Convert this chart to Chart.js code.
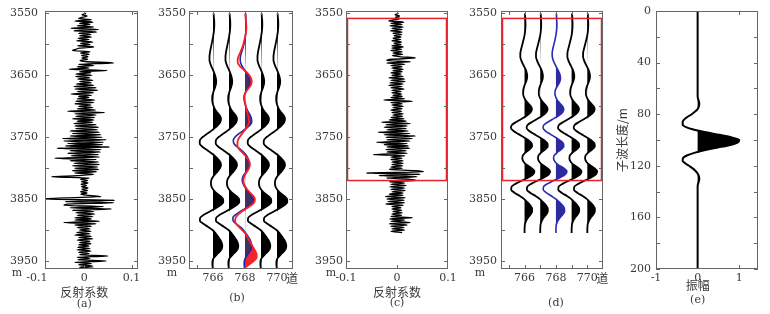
<!DOCTYPE html>
<html>
<head>
<meta charset="utf-8">
<script src="https://cdn.jsdelivr.net/npm/chart.js@4.4.1/dist/chart.umd.min.js"></script>
<style>
html, body { margin: 0; padding: 0; background: #fff; }
#wrap { position: relative; width: 770px; height: 314px; overflow: hidden; }
canvas { position: absolute; top: 0; }
</style>
</head>
<body>
<div id="wrap">
  <canvas id="pa" width="152" height="314" style="left:0px"></canvas>
  <canvas id="pb" width="152" height="314" style="left:150px"></canvas>
  <canvas id="pc" width="152" height="314" style="left:305px"></canvas>
  <canvas id="pd" width="152" height="314" style="left:460px"></canvas>
  <canvas id="pe" width="158" height="314" style="left:612px"></canvas>
</div>
<script>
// reflection coefficients, well (a), every 2 m from 3550 m
const reflA = [
  0.004, -0.005, 0.006, -0.003, -0.012, 0.015, -0.02, 0.018, -0.01, 0.012,
  -0.015, 0.02, -0.028, 0.03, -0.022, 0.026, -0.012, 0.014, -0.01, 0.015,
  -0.013, 0.01, -0.016, 0.018, -0.008, 0.012, -0.014, 0.02, -0.01, -0.018,
  -0.025, 0.012, -0.008, 0.01, -0.006, 0.008, -0.005, 0.007, -0.009, 0.006,
  0.062, -0.012, 0.02, -0.015, 0.01, -0.032, 0.048, -0.01, 0.014, -0.018,
  0.016, -0.018, 0.012, -0.014, 0.018, -0.01, 0.015, -0.017, 0.02, -0.022,
  0.025, -0.02, 0.028, -0.015, 0.02, -0.028, 0.015, -0.012, 0.01, -0.015,
  0.022, -0.018, 0.02, -0.02, 0.014, -0.012, 0.018, -0.015, 0.024, -0.035,
  0.043, -0.02, 0.025, -0.018, 0.022, -0.025, 0.02, -0.015, 0.018, -0.022,
  0.025, -0.02, 0.03, -0.018, 0.028, -0.03, 0.032, -0.025, 0.035, -0.03,
  0.038, -0.046, 0.046, -0.043, 0.04, -0.035, 0.038, -0.04, 0.053, -0.057,
  0.035, -0.03, 0.034, -0.035, 0.03, -0.028, 0.032, -0.062, 0.025, -0.03,
  0.03, -0.022, 0.032, -0.025, 0.028, -0.02, 0.03, -0.025, 0.026, -0.02,
  0.02, -0.015, -0.069, 0.01, -0.008, 0.007, -0.006, 0.008, -0.007, 0.005,
  -0.006, 0.008, -0.005, 0.007, -0.008, 0.006, -0.007, 0.01, 0.035, -0.04,
  -0.09, 0.064, -0.04, 0.062, -0.035, -0.043, 0.04, -0.03, 0.057, -0.025,
  0.02, -0.018, 0.022, -0.015, 0.018, -0.02, 0.015, -0.02, 0.032, -0.043,
  0.025, -0.02, 0.015, -0.015, 0.012, -0.01, 0.014, -0.016, 0.012, -0.02,
  0.015, -0.012, 0.018, -0.015, 0.012, -0.01, 0.014, -0.012, 0.01, -0.014,
  0.012, -0.015, 0.014, -0.012, 0.01, -0.01, 0.05, -0.015, 0.012, -0.014,
  0.046, -0.02, 0.015, -0.012, 0.018, -0.01, 0.02
];
// reflection coefficients, panel (c), every 2 m from 3550 m
const reflC = [
  0.003, -0.004, 0.005, -0.003, 0.006, -0.005, -0.016, 0.013, -0.012, 0.01,
  -0.014, 0.012, -0.01, 0.01, -0.013, 0.01, -0.008, 0.009, -0.006, 0.008,
  -0.008, 0.007, -0.01, 0.009, -0.006, 0.008, -0.01, 0.012, -0.01, 0.009,
  -0.012, 0.01, -0.008, 0.011, -0.009, 0.008, 0.036, -0.01, -0.02, 0.026,
  -0.02, 0.015, -0.012, 0.01, -0.01, 0.012, -0.008, 0.01, -0.012, 0.008,
  -0.01, 0.012, -0.016, 0.015, -0.012, 0.016, -0.014, 0.012, -0.016, 0.01,
  -0.012, 0.014, -0.01, 0.008, -0.01, 0.009, -0.008, 0.01, -0.012, 0.015,
  -0.026, 0.03, -0.012, 0.01, -0.01, 0.012, -0.008, 0.01, -0.012, 0.009,
  -0.01, 0.012, -0.008, 0.011, -0.012, 0.014, -0.015, 0.018, -0.03, 0.026,
  -0.022, 0.02, -0.025, 0.018, -0.02, 0.022, -0.037, 0.025, -0.025, 0.036,
  -0.022, 0.03, -0.02, 0.025, -0.04, 0.02, -0.025, 0.022, -0.02, 0.025,
  -0.022, 0.018, -0.02, 0.02, -0.046, 0.015, -0.012, 0.01, -0.012, 0.012,
  -0.01, 0.012, -0.01, 0.011, -0.012, 0.01, -0.015, 0.035, 0.052, -0.06,
  0.045, -0.035, 0.039, -0.02, 0.025, 0.038, -0.015, 0.015, -0.012, 0.018,
  -0.014, 0.015, -0.012, 0.016, -0.01, 0.012, -0.015, 0.012, -0.023, 0.016,
  -0.02, 0.014, -0.018, 0.015, -0.022, 0.012, -0.01, 0.008, -0.01, 0.009,
  -0.008, 0.01, -0.01, 0.009, -0.012, 0.03, -0.014, 0.015, -0.012, 0.026,
  -0.015, 0.02, -0.012, 0.014, -0.01, 0.015, -0.012, 0.01
];
// synthetic trace (b), every 5 m from 3550 m, in trace widths
const traceB = [
  0.04, 0.05, 0.07, 0.08, 0.08, 0.07, 0.05, 0.02, -0.01, -0.05,
  -0.09, -0.13, -0.17, -0.2, -0.22, -0.22, -0.18, -0.11, -0.02, 0.06,
  0.13, 0.18, 0.2, 0.18, 0.12, 0.05, -0.01, -0.05, -0.05, -0.02,
  0.04, 0.13, 0.27, 0.42, 0.5, 0.46, 0.32, 0.12, -0.12, -0.4,
  -0.66, -0.82, -0.83, -0.68, -0.42, -0.14, 0.1, 0.3, 0.45, 0.5,
  0.44, 0.3, 0.12, -0.03, -0.11, -0.13, -0.09, 0.02, 0.2, 0.45,
  0.63, 0.64, 0.45, 0.15, -0.2, -0.55, -0.8, -0.82, -0.6, -0.3,
  -0.03, 0.15, 0.3, 0.43, 0.53, 0.58, 0.55, 0.42, 0.22, 0.05,
  -0.03, -0.04, -0.02, 0.0
];
const trace768Blue = [
  0.04, 0.05, 0.06, 0.07, 0.08, 0.08, 0.06, 0.03, 0.0, -0.03,
  -0.07, -0.12, -0.18, -0.24, -0.29, -0.3, -0.27, -0.18, -0.06, 0.07,
  0.18, 0.26, 0.3, 0.28, 0.2, 0.08, -0.02, -0.06, -0.05, -0.01,
  0.05, 0.12, 0.22, 0.33, 0.4, 0.42, 0.33, 0.12, -0.15, -0.42,
  -0.63, -0.73, -0.7, -0.52, -0.27, -0.05, 0.1, 0.2, 0.27, 0.28,
  0.22, 0.1, -0.05, -0.15, -0.17, -0.12, -0.02, 0.12, 0.3, 0.45,
  0.52, 0.48, 0.3, 0.02, -0.3, -0.58, -0.76, -0.74, -0.55, -0.3,
  -0.1, 0.05, 0.18, 0.3, 0.38, 0.42, 0.4, 0.3, 0.15, 0.03,
  -0.04, -0.05, -0.04, -0.03
];
const trace768Red = [
  0.02, 0.03, 0.05, 0.07, 0.08, 0.08, 0.06, 0.03, -0.01, -0.06,
  -0.11, -0.17, -0.25, -0.33, -0.41, -0.46, -0.45, -0.32, -0.12, 0.1,
  0.27, 0.38, 0.42, 0.38, 0.25, 0.1, 0.0, -0.03, -0.02, 0.01,
  0.05, 0.1, 0.15, 0.2, 0.24, 0.25, 0.2, 0.08, -0.06, -0.2,
  -0.35, -0.44, -0.48, -0.46, -0.34, -0.16, 0.02, 0.17, 0.28, 0.3,
  0.25, 0.14, 0.02, -0.07, -0.1, -0.07, 0.02, 0.15, 0.33, 0.52,
  0.62, 0.58, 0.38, 0.1, -0.2, -0.44, -0.58, -0.62, -0.55, -0.38,
  -0.18, 0.0, 0.12, 0.22, 0.33, 0.44, 0.56, 0.66, 0.73, 0.72,
  0.55, 0.3, 0.05, -0.1
];
// synthetic trace (d), every 5 m from 3550 m
const traceD = [
  0.03, 0.04, 0.05, 0.06, 0.06, 0.05, 0.03, 0.0, -0.04, -0.09,
  -0.14, -0.19, -0.24, -0.27, -0.27, -0.22, -0.14, -0.04, 0.06, 0.13,
  0.17, 0.16, 0.1, 0.02, -0.05, -0.09, -0.09, -0.04, 0.06, 0.22,
  0.4, 0.47, 0.38, 0.15, -0.17, -0.5, -0.8, -0.87, -0.7, -0.38,
  -0.05, 0.25, 0.46, 0.48, 0.3, 0.05, -0.12, -0.14, -0.05, 0.15,
  0.45, 0.63, 0.55, 0.25, -0.15, -0.55, -0.83, -0.85, -0.62, -0.3,
  -0.02, 0.18, 0.36, 0.48, 0.48, 0.38, 0.22, 0.1, 0.03, 0.01,
  0.0, 0.0
];
const traceD768 = [
  0.03, 0.04, 0.05, 0.06, 0.06, 0.05, 0.03, 0.0, -0.04, -0.08,
  -0.13, -0.18, -0.22, -0.24, -0.23, -0.18, -0.1, 0.0, 0.1, 0.2,
  0.27, 0.29, 0.25, 0.15, 0.03, -0.05, -0.06, -0.01, 0.09, 0.25,
  0.42, 0.5, 0.42, 0.18, -0.15, -0.48, -0.76, -0.82, -0.66, -0.36,
  -0.04, 0.26, 0.47, 0.5, 0.32, 0.07, -0.12, -0.15, -0.05, 0.17,
  0.5, 0.7, 0.6, 0.27, -0.14, -0.52, -0.79, -0.81, -0.6, -0.29,
  0.0, 0.22, 0.42, 0.54, 0.55, 0.44, 0.26, 0.12, 0.04, 0.01,
  0.0, 0.0
];
// wavelet (e)
const waveDepth = [0, 66, 68, 70, 72, 74, 76, 78, 80, 82, 84, 86, 88, 90, 92, 94, 96, 98, 100, 102, 104,
  106, 108, 110, 112, 114, 116, 118, 120, 122, 124, 126, 128, 130, 132, 134, 136, 200];
const waveAmp = [0, 0.0, 0.01, 0.03, 0.04, 0.03, 0.0, -0.06, -0.14, -0.24, -0.32,
  -0.36, -0.36, -0.28, -0.08, 0.2, 0.52, 0.82, 1.0, 0.96, 0.76,
  0.46, 0.16, -0.08, -0.26, -0.35, -0.36, -0.3, -0.21, -0.12, -0.05,
  0.0, 0.03, 0.04, 0.03, 0.01, 0.0, 0];

const traceNos = [766, 767, 768, 769, 770];
const depthTicks = [3550, 3600, 3650, 3700, 3750, 3800, 3850, 3900, 3950];
const depthLabels = [3550, 3650, 3750, 3850, 3950];
const traceTicks = [765, 766, 767, 768, 769, 770, 771];
const traceLabels = [766, 768, 770];
const reflTicks = [-0.1, 0, 0.1];
const waveTicks = [0, 20, 40, 60, 80, 100, 120, 140, 160, 180, 200];
const waveLabels = [0, 40, 80, 120, 160, 200];
const ampTicks = [-1, 0, 1];
const windowDepths = [3558, 3820];

const reflDepthA = reflA.map((_, i) => 3550 + 2 * i);
const reflDepthC = reflC.map((_, i) => 3550 + 2 * i);
const depthB = traceB.map((_, i) => 3550 + 5 * i);
const depthD = traceD.map((_, i) => 3550 + 5 * i);

const textColor = '#3a3a3a';
const serif = 'DejaVu Serif';
const cjk = '"Noto Sans CJK SC"';
const tickFont = {family: serif, size: 11};

function lineSet(xs, ys, color, width, order) {
  return {
    data: xs.map((v, i) => ({x: v, y: ys[i]})),
    borderColor: color, borderWidth: width, pointRadius: 0,
    fill: false, cubicInterpolationMode: 'monotone', order: order
  };
}
function traceSet(base, amps, depths, color, width, order) {
  return lineSet(amps.map(a => base + a), depths, color, width, order);
}
function fillSet(base, amps, depths, color, order) {
  return {
    data: amps.map((a, i) => ({x: base + Math.max(a, 0), y: depths[i]})),
    borderWidth: 0, borderColor: 'rgba(0,0,0,0)', backgroundColor: color,
    pointRadius: 0, tension: 0, fill: {value: base}, order: order
  };
}

// box, inner ticks, captions and extra marks
const framePlugin = {
  id: 'frame',
  afterDraw(chart, args, o) {
    const {ctx, chartArea: a} = chart;
    const xs = chart.scales.x, ys = chart.scales.y;
    ctx.save();
    if (o.window) {
      ctx.strokeStyle = '#e8202a';
      ctx.lineWidth = 1.5;
      const y1 = ys.getPixelForValue(o.window[0]), y2 = ys.getPixelForValue(o.window[1]);
      ctx.strokeRect(a.left + 1.5, y1, a.right - a.left - 3, y2 - y1);
    }
    ctx.strokeStyle = '#666';
    ctx.lineWidth = 1;
    ctx.strokeRect(a.left + 0.5, a.top + 0.5, a.right - a.left - 1, a.bottom - a.top - 1);
    ctx.beginPath();
    ys.ticks.forEach(t => {
      const y = Math.round(ys.getPixelForValue(t.value)) + 0.5;
      ctx.moveTo(a.left, y); ctx.lineTo(a.left + 4, y);
      ctx.moveTo(a.right, y); ctx.lineTo(a.right - 4, y);
    });
    xs.ticks.forEach(t => {
      const x = Math.round(xs.getPixelForValue(t.value)) + 0.5;
      if (x < a.left + 1 || x > a.right - 1) return;
      ctx.moveTo(x, a.bottom); ctx.lineTo(x, a.bottom - 4);
      ctx.moveTo(x, a.top); ctx.lineTo(x, a.top + 4);
    });
    ctx.stroke();
    ctx.fillStyle = textColor;
    ctx.textBaseline = 'middle';
    if (o.mDx !== undefined) {
      ctx.font = '11px ' + serif;
      ctx.textAlign = 'center';
      ctx.fillText('m', a.left + o.mDx, a.bottom + 4);
    }
    if (o.dao) {
      ctx.font = '12px ' + cjk;
      ctx.textAlign = 'left';
      ctx.fillText('道', xs.getPixelForValue(770) + 9, a.bottom + 9);
    }
    (o.captions || []).forEach(c => {
      ctx.font = c.cjk ? '12px ' + cjk : '11px ' + serif;
      ctx.textAlign = 'center';
      ctx.fillText(c.text, xs.getPixelForValue(c.at) + (c.dx || 0), a.bottom + c.dy);
    });
    ctx.restore();
  }
};

function makeChart(id, o) {
  return new Chart(document.getElementById(id), {
    type: 'line',
    data: {datasets: o.datasets},
    options: {
      responsive: false,
      animation: false,
      indexAxis: 'y',
      layout: {padding: {top: 11, right: o.rightPad, left: 0, bottom: 0}},
      plugins: {legend: {display: false}, tooltip: {enabled: false}, frame: o.frame},
      scales: {
        x: {
          type: 'linear', min: o.xMin, max: o.xMax,
          grid: {display: false, drawTicks: false}, border: {display: false},
          ticks: {
            font: tickFont, color: textColor, padding: 3, autoSkip: false, maxRotation: 0,
            callback: v => o.xLabels.includes(v) ? String(v) : ''
          },
          afterBuildTicks: s => { s.ticks = o.xTicks.map(v => ({value: v})); },
          afterFit: s => { s.height = 45; s.paddingLeft = 0; s.paddingRight = 0; }
        },
        y: {
          type: 'linear', min: o.yMin, max: o.yMax, reverse: true,
          grid: {display: false, drawTicks: false}, border: {display: false},
          ticks: {
            font: tickFont, color: textColor, padding: o.yPad, autoSkip: false,
            callback: v => o.yLabels.includes(v) ? String(v) : ''
          },
          title: o.yTitle ? {display: true, text: o.yTitle, color: textColor,
            font: {family: cjk, size: 12}, padding: {top: 3, bottom: 0}} : {display: false},
          afterBuildTicks: s => { s.ticks = o.yTicks.map(v => ({value: v})); },
          afterFit: s => { s.width = o.yWidth; s.paddingTop = 0; s.paddingBottom = 0; }
        }
      }
    },
    plugins: [framePlugin]
  });
}

// (a) reflectivity
makeChart('pa', {
  datasets: [lineSet(reflA, reflDepthA, '#000', 1.3, 1)],
  xMin: -0.083, xMax: 0.1135, xTicks: reflTicks, xLabels: reflTicks,
  yMin: 3546, yMax: 3963, yTicks: depthTicks, yLabels: depthLabels,
  yWidth: 45, yPad: 7, rightPad: 14,
  frame: {mDx: -28, captions: [
    {text: '反射系数', at: 0, dy: 23, cjk: true},
    {text: '(a)', at: 0, dy: 35}
  ]}
});

// (b) synthetic traces with well-side trace 768
const setsB = [];
traceNos.forEach(n => {
  if (n === 768) return;
  setsB.push(traceSet(n, traceB, depthB, '#000', 1.8, 1));
  setsB.push(fillSet(n, traceB, depthB, '#000', 3));
});
setsB.push(traceSet(768, trace768Red, depthB, '#ff1f1f', 1.8, 0));
setsB.push(traceSet(768, trace768Blue, depthB, '#2424a8', 1.6, 1));
setsB.push(fillSet(768, trace768Blue, depthB, 'rgba(58,50,100,0.95)', 2));
setsB.push(fillSet(768, trace768Red, depthB, 'rgba(235,25,35,0.95)', 3));
makeChart('pb', {
  datasets: setsB,
  xMin: 764.5, xMax: 771, xTicks: traceTicks, xLabels: traceLabels,
  yMin: 3546, yMax: 3963, yTicks: depthTicks, yLabels: depthLabels,
  yWidth: 39, yPad: 3, rightPad: 9,
  frame: {mDx: -17, dao: true, captions: [{text: '(b)', at: 768, dx: -8, dy: 29}]}
});

// (c) reflectivity with window
makeChart('pc', {
  datasets: [lineSet(reflC, reflDepthC, '#000', 1.3, 1)],
  xMin: -0.1, xMax: 0.1, xTicks: reflTicks, xLabels: reflTicks,
  yMin: 3546, yMax: 3963, yTicks: depthTicks, yLabels: depthLabels,
  yWidth: 41, yPad: 3, rightPad: 9,
  frame: {mDx: -15, window: windowDepths, captions: [
    {text: '反射系数', at: 0, dy: 23, cjk: true},
    {text: '(c)', at: 0, dy: 34}
  ]}
});

// (d) synthetic traces with window
const setsD = [];
traceNos.forEach(n => {
  if (n === 768) return;
  setsD.push(traceSet(n, traceD, depthD, '#000', 1.8, 1));
  setsD.push(fillSet(n, traceD, depthD, '#000', 3));
});
setsD.push(traceSet(768, traceD768, depthD, '#2a2ab4', 1.6, 0));
setsD.push(fillSet(768, traceD768, depthD, '#2b2b9c', 2));
makeChart('pd', {
  datasets: setsD,
  xMin: 764.5, xMax: 771, xTicks: traceTicks, xLabels: traceLabels,
  yMin: 3546, yMax: 3963, yTicks: depthTicks, yLabels: depthLabels,
  yWidth: 41, yPad: 4, rightPad: 9,
  frame: {mDx: -21, dao: true, window: windowDepths, captions: [{text: '(d)', at: 768, dy: 34}]}
});

// (e) wavelet
makeChart('pe', {
  datasets: [
    lineSet(waveAmp, waveDepth, '#000', 2, 0),
    {
      data: waveAmp.map((a, i) => ({x: Math.max(a, 0), y: waveDepth[i]})),
      borderWidth: 0, borderColor: 'rgba(0,0,0,0)', backgroundColor: '#000',
      pointRadius: 0, tension: 0, fill: {value: 0}, order: 2
    }
  ],
  xMin: -1, xMax: 1.45, xTicks: ampTicks, xLabels: ampTicks,
  yMin: 0, yMax: 200, yTicks: waveTicks, yLabels: waveLabels,
  yWidth: 44, yPad: 5, rightPad: 12, yTitle: '子波长度/m',
  frame: {captions: [
    {text: '振幅', at: 0, dy: 16, cjk: true},
    {text: '(e)', at: 0, dy: 31}
  ]}
});
</script>
</body>
</html>
